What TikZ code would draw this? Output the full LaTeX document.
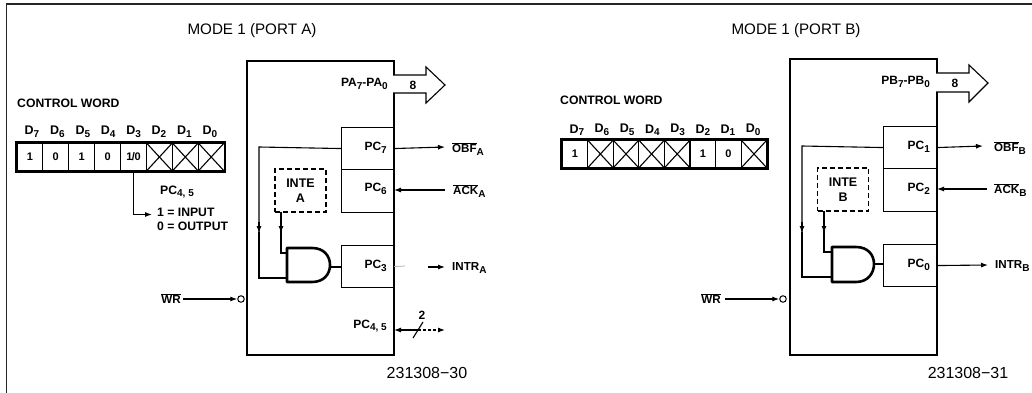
\documentclass[tikz,border=0pt]{standalone}
\usepackage{fontspec}
\setmainfont{Liberation Sans}
\usetikzlibrary{arrows.meta}
\newcommand{\sbs}[1]{\raisebox{-2.6pt}{\fontsize{10}{10}\selectfont\bfseries #1}}
\newcommand{\ovl}[1]{$\overline{\hbox{\bfseries #1}}$}
\tikzset{
  x=1pt,y=-1pt,
  heavy/.style={draw=black,line width=2.2pt},
  thinbox/.style={draw=black,line width=1.1pt,minimum width=#1,inner sep=0pt,anchor=north west},
  bit/.style={draw=black,line width=1pt,minimum width=25.8pt,minimum height=28pt,inner sep=0pt,font=\fontsize{11}{11}\selectfont\bfseries},
  lab/.style={inner sep=0pt,font=\fontsize{12.2}{14}\selectfont\bfseries},
  pinlab/.style={inner sep=0pt,anchor=east,font=\fontsize{12}{12}\selectfont\bfseries},
  sig/.style={inner sep=0pt,anchor=west,font=\fontsize{11.6}{12}\selectfont\bfseries},
  dlab/.style={inner sep=0pt,font=\fontsize{12.5}{12.5}\selectfont\bfseries},
  head/.style={inner sep=0pt,font=\fontsize{15.2}{15.2}\selectfont},
  num/.style={inner sep=0pt,font=\fontsize{16}{16}\selectfont},
  wire/.style={draw=black,line width=1.1pt},
  arr/.style={wire,-{Latex[length=7pt,width=5pt]}},
  invc/.style={circle,draw=black,line width=1pt,minimum size=6.5pt,inner sep=0pt},
  gate/.style={draw=black,line width=2.6pt,line join=round},
  busarr/.style={draw=black,line width=1.1pt,line join=miter},
  intebox/.style={draw=black,line width=1.1pt,dash pattern=on 5pt off 3pt,inner sep=0pt,minimum width=51pt,minimum height=43pt,font=\fontsize{12.5}{15}\selectfont\bfseries,align=center},
}
\begin{document}
\begin{tikzpicture}
\useasboundingbox (0,0) rectangle (1032,393);
% frame
\coordinate (ftl) at (6.5,4); \coordinate (fbl) at (6.5,393);
\coordinate (ftr) at (1032,4);
\draw[black!85,line width=1.3pt] (fbl) -- (ftl) -- (ftr);
% titles
\node[head] (titleA) at (252,31) {MODE 1 (PORT A)};
\node[head] (titleB) at (796,31) {MODE 1 (PORT B)};
\node[num] (refA) at (427,373) {231308−30};
\node[num] (refB) at (968,373) {231308−31};
% --- control word A
\node[lab,anchor=west] (cwA) at (17,103) {CONTROL WORD};
\foreach \i/\d/\v in {0/7/1,1/6/0,2/5/1,3/4/0,4/3/{1\kern-.5pt/\kern-.5pt0},5/2/,6/1/,7/0/}{
  \node[bit] (a\i) at (29.9+25.9*\i,157) {\v};
  \node[dlab] at (32+25.4*\i,132) {D\sbs{\d}};
}
\foreach \i in {5,6,7}{
  \draw[wire] (a\i.north west) -- (a\i.south east) (a\i.north east) -- (a\i.south west);
}
\draw[heavy] (a0.north west) rectangle (a7.south east);
\node[lab,anchor=west] (pcA) at (160,192) {PC\sbs{4, 5}};
\node[lab,anchor=north west,align=left] (ioA) at (157,208) {1 = INPUT\\0 = OUTPUT};
\coordinate (ioAin) at (152,214.5);
\draw[arr] (a4.south) |- (ioAin);
% --- block A
\node[heavy,inner sep=0pt,anchor=north west,minimum width=147pt,minimum height=294pt] (blA) at (246,60) {};
\node[thinbox=52pt,minimum height=42pt] (pc7) at (341,127) {};
\node[thinbox=52pt,minimum height=43pt] (pc6) at (341,169) {};
\node[thinbox=52pt,minimum height=42pt] (pc3) at (341,245) {};
\node[pinlab] at (388,84) {PA\sbs{7}-PA\sbs{0}};
\node[pinlab] at (387,148) {PC\sbs{7}};
\node[pinlab] at (387,189) {PC\sbs{6}};
\node[pinlab] at (387,266) {PC\sbs{3}};
\node[pinlab] at (387,326) {PC\sbs{4, 5}};
% bus arrow A
\draw[busarr,fill=white] (393,75) -- (426,75) -- (426,67) -- (445,85) -- (426,103) -- (426,93) -- (393,93);
\node[pinlab,anchor=center] (busA) at (413,85) {8};
% signals A
\node[sig] (obfA) at (452,149) {\ovl{OBF}\sbs{A}};
\node[sig] (ackA) at (453,191) {\ovl{ACK}\sbs{A}};
\node[sig] (intrA) at (452,268) {INTR\sbs{A}};
\coordinate (oAe) at (445,147); \coordinate (kAs) at (445,190); \coordinate (kAe) at (394,190);
\draw[arr] (pc7.east) -- (oAe);
\draw[arr] (kAs) -- (kAe);
\coordinate (iAa) at (428,267); \coordinate (iAb) at (445,267);
\draw[draw=black!35,line width=.7pt] (pc3.east) -- (405,266);
\draw[arr] (iAa) -- (iAb);
% pc4,5
\coordinate (pAa) at (394,330); \coordinate (pAb) at (445,330); \coordinate (pAm) at (418,330);
\draw[wire,{Latex[length=7pt,width=5pt]}-] (pAa) -- (pAm);
\draw[wire,densely dashed,-{Latex[length=7pt,width=5pt]}] (pAm) -- (pAb);
\draw[wire] (413,338) -- (423,322);
\node[pinlab,anchor=center] (twoA) at (422,315) {2};
% INTE A
\node[intebox] (inteA) at (300.5,190.5) {INTE\\A};
% AND A
\coordinate (gA1) at (287,253); \coordinate (gA2) at (287,278); \coordinate (gAo) at (330,267);
\draw[gate,fill=white] (287,248) -- (312,248) .. controls (324,248) and (330,256) .. (330,265) .. controls (330,274) and (324,282) .. (312,282) -- (287,282) -- cycle;
\draw[wire] (gAo) -- (pc3.west |- gAo);
\draw[wire] (pc7.west) -- (259,147) -- (259,232);
\draw[arr] (259,222) -- (259,233);
\draw[wire] (259,232) |- (gA2);
\draw[wire] (281,212) -- (281,232);
\draw[arr] (281,222) -- (281,233);
\draw[wire] (281,232) |- (gA1);
% WR A
\node[sig,anchor=center] (wrA) at (171,299) {\ovl{WR}};
\node[invc] (cA) at (241,299) {};
\draw[arr] (183,299) -- (cA.west);
% --- control word B
\node[lab,anchor=west] (cwB) at (560,100) {CONTROL WORD};
\foreach \i/\d/\v in {0/7/1,1/6/,2/5/,3/4/,4/3/,5/2/1,6/1/0,7/0/}{
  \node[bit] (b\i) at (574.8+25.6*\i,154) {\v};
  \node[dlab] at (576.8+25.2*\i,130) {D\sbs{\d}};
}
\foreach \i in {1,2,3,4,7}{
  \draw[wire] (b\i.north west) -- (b\i.south east) (b\i.north east) -- (b\i.south west);
}
\draw[heavy] (b0.north west) rectangle (b7.south east);
% --- block B
\node[heavy,inner sep=0pt,anchor=north west,minimum width=147pt,minimum height=296pt] (blB) at (789,58) {};
\node[thinbox=53pt,minimum height=42pt] (pc1) at (883,126) {};
\node[thinbox=53pt,minimum height=43pt] (pc2) at (883,168) {};
\node[thinbox=53pt,minimum height=42pt] (pc0) at (883,244) {};
\node[pinlab] at (930,82) {PB\sbs{7}-PB\sbs{0}};
\node[pinlab] at (930,147) {PC\sbs{1}};
\node[pinlab] at (930,189) {PC\sbs{2}};
\node[pinlab] at (930,265) {PC\sbs{0}};
\draw[busarr,fill=white] (936,73) -- (969,73) -- (969,65) -- (988,83) -- (969,102) -- (969,92) -- (936,92);
\node[pinlab,anchor=center] (busB) at (955,83) {8};
\node[sig] (obfB) at (994,148) {\ovl{OBF}\sbs{B}};
\node[sig] (ackB) at (994,190) {\ovl{ACK}\sbs{B}};
\node[sig] (intrB) at (995,266) {INTR\sbs{B}};
\coordinate (oBe) at (983,146); \coordinate (kBs) at (987,189); \coordinate (kBe) at (937,189); \coordinate (iBe) at (988,265);
\draw[arr] (pc1.east) -- (oBe);
\draw[arr] (kBs) -- (kBe);
\draw[arr] (pc0.east) -- (iBe);
\node[intebox] (inteB) at (843,189.5) {INTE\\B};
\coordinate (gB1) at (832,252); \coordinate (gB2) at (832,277); \coordinate (gBo) at (874,264);
\draw[gate,fill=white] (832,247) -- (856,247) .. controls (868,247) and (874,255) .. (874,264) .. controls (874,273) and (868,282) .. (856,282) -- (832,282) -- cycle;
\draw[wire] (gBo) -- (pc0.west |- gBo);
\draw[wire] (pc1.west) -- (802,146) -- (802,232);
\draw[arr] (802,222) -- (802,233);
\draw[wire] (802,232) |- (gB2);
\draw[wire] (824,211) -- (824,232);
\draw[arr] (824,222) -- (824,233);
\draw[wire] (824,232) |- (gB1);
\node[sig,anchor=center] (wrB) at (711,299) {\ovl{WR}};
\node[invc] (cB) at (783,299) {};
\draw[arr] (725,299) -- (cB.west);
\end{tikzpicture}
\end{document}
